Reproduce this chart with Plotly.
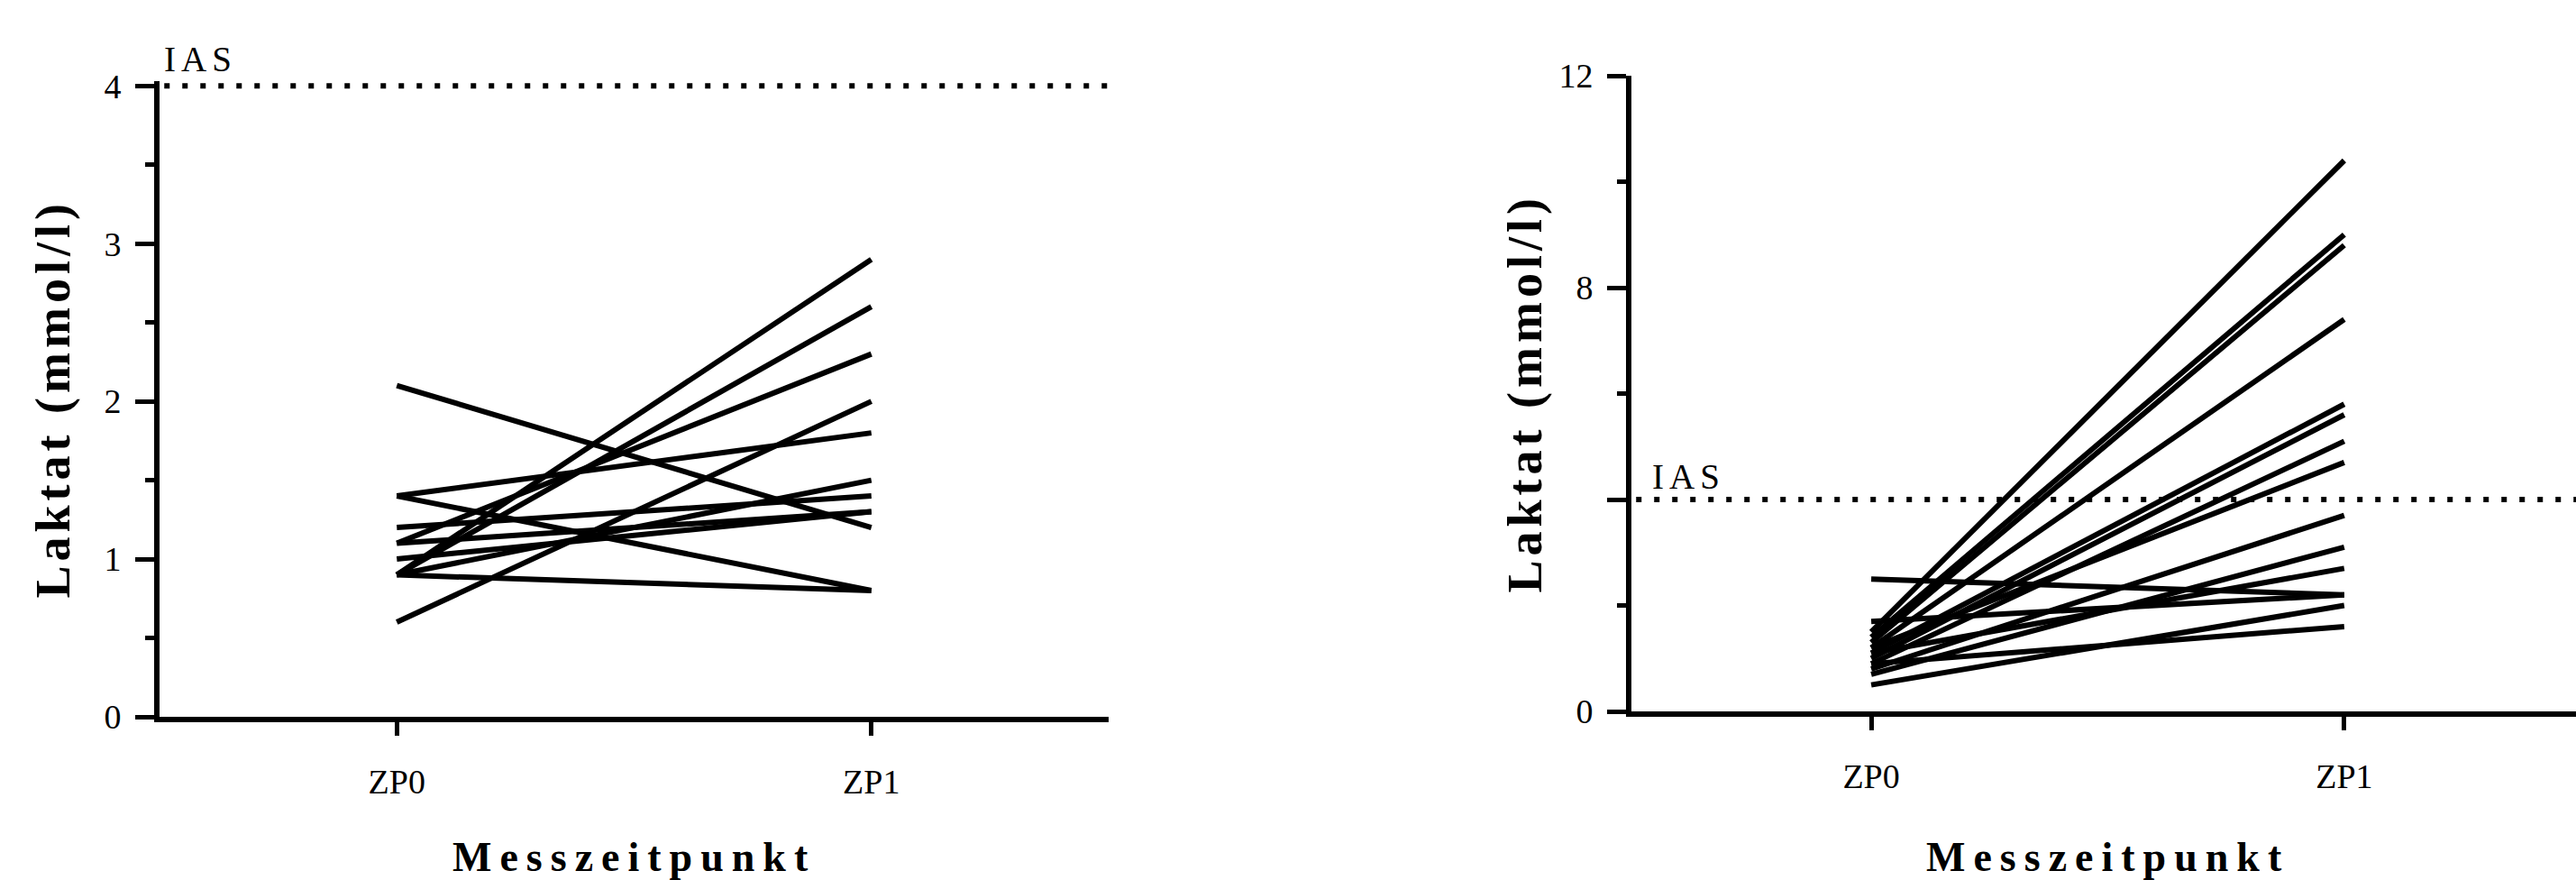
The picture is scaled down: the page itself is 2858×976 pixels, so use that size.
import plotly.graph_objects as go

# ---- data ----
categories = ["ZP0", "ZP1"]

# left panel: Laktat at ZP0 and ZP1 per subject
left_zp0 = [2.1, 1.4, 1.4, 0.9, 0.6, 1.2, 1.1, 1.1, 1.0, 0.9, 0.9, 0.9]
left_zp1 = [1.2, 1.8, 0.8, 0.8, 2.0, 1.4, 2.3, 1.3, 1.3, 1.5, 2.9, 2.6]

# right panel
right_zp0 = [1.5, 1.4, 1.3, 1.2, 1.1, 1.0, 0.9, 1.2, 0.8, 0.7, 1.1, 2.5, 1.7, 0.5, 0.9]
right_zp1 = [10.4, 9.0, 8.8, 7.4, 5.8, 5.6, 5.1, 4.7, 3.7, 3.1, 2.7, 2.2, 2.2, 2.0, 1.6]

ias_level = 4
left_ticks = [0, 1, 2, 3, 4]
right_ticks = [0, 4, 8, 12]
right_ticktext = ["0", "", "8", "12"]

FONT = "Liberation Serif"
W, H = 2858, 976

fig = go.Figure()

for a, b in zip(left_zp0, left_zp1):
    fig.add_trace(go.Scatter(x=categories, y=[a, b], mode="lines",
                             line=dict(color="black", width=6),
                             xaxis="x", yaxis="y", showlegend=False, hoverinfo="skip"))
for a, b in zip(right_zp0, right_zp1):
    fig.add_trace(go.Scatter(x=categories, y=[a, b], mode="lines",
                             line=dict(color="black", width=6),
                             xaxis="x2", yaxis="y2", showlegend=False, hoverinfo="skip"))

common_x = dict(type="category", showline=True, linecolor="black", linewidth=6,
                ticks="outside", ticklen=15, tickwidth=5, tickcolor="black",
                showgrid=False, zeroline=False, automargin=False,
                tickfont=dict(family=FONT, size=38, color="black"),
                ticklabelstandoff=18)
common_y = dict(showline=True, linecolor="black", linewidth=6,
                ticks="outside", ticklen=21, tickwidth=5, tickcolor="black",
                showgrid=False, zeroline=False, automargin=False,
                tickfont=dict(family=FONT, size=38, color="black"),
                ticklabelstandoff=8)

fig.update_layout(
    template="none",
    width=W, height=H,
    margin=dict(l=0, r=0, t=0, b=0, pad=0),
    plot_bgcolor="white", paper_bgcolor="white",
    xaxis=dict(domain=[177 / W, 1230 / W], range=[-0.5, 1.5], anchor="y", **common_x),
    yaxis=dict(domain=[1 - 795 / H, 1 - 90 / H], range=[0, 4.03], anchor="x",
               tickmode="array", tickvals=left_ticks,
               minor=dict(tickmode="linear", tick0=0, dtick=0.5, ticks="outside",
                          ticklen=10, tickwidth=5, tickcolor="black"),
               **common_y),
    xaxis2=dict(domain=[1810 / W, 1.0], range=[-0.507, 1.49], anchor="y2", **common_x),
    yaxis2=dict(domain=[1 - 789 / H, 1 - 84 / H], range=[0, 12], anchor="x2",
                tickmode="array", tickvals=right_ticks, ticktext=right_ticktext,
                minor=dict(tickmode="linear", tick0=0, dtick=2, ticks="outside",
                           ticklen=10, tickwidth=5, tickcolor="black"),
                **common_y),
)

# IAS dotted lines
for xr, yr in (("x domain", "y"), ("x2 domain", "y2")):
    fig.add_shape(type="line", xref=xr, yref=yr, x0=0.005, x1=1, y0=ias_level, y1=ias_level,
                  line=dict(color="black", width=6, dash="6px,14px"))

# IAS labels
ias_txt = '<span style="letter-spacing:6px">IAS</span>'
fig.add_annotation(text=ias_txt, xref="x domain", yref="y", x=0.003, y=ias_level,
                   xanchor="left", yanchor="bottom", yshift=6, showarrow=False,
                   font=dict(family=FONT, size=39, color="black"))
fig.add_annotation(text=ias_txt, xref="x2 domain", yref="y2", x=0.02, y=ias_level,
                   xanchor="left", yanchor="bottom", yshift=2, showarrow=False,
                   font=dict(family=FONT, size=39, color="black"))

# axis titles
xt = '<b><span style="letter-spacing:9px">Messzeitpunkt</span></b>'
for xr in ("x", "x2"):
    fig.add_annotation(text=xt, xref=xr, yref="paper", x=0.5, y=1 - 950 / H,
                       xanchor="center", yanchor="middle", showarrow=False,
                       font=dict(family=FONT, size=46, color="black"))
yt = '<b><span style="letter-spacing:5px">Laktat (mmol/l)</span></b>'
fig.add_annotation(text=yt, xref="paper", yref="y domain", x=58 / W, y=0.5,
                   xanchor="center", yanchor="middle", textangle=-90, showarrow=False,
                   font=dict(family=FONT, size=54, color="black"))
fig.add_annotation(text=yt, xref="paper", yref="y2 domain", x=1691 / W, y=0.5,
                   xanchor="center", yanchor="middle", textangle=-90, showarrow=False,
                   font=dict(family=FONT, size=54, color="black"))

fig.write_html("out.html", config={"displayModeBar": False},
               post_script="document.body.style.margin='0';document.body.style.overflow='hidden';")
